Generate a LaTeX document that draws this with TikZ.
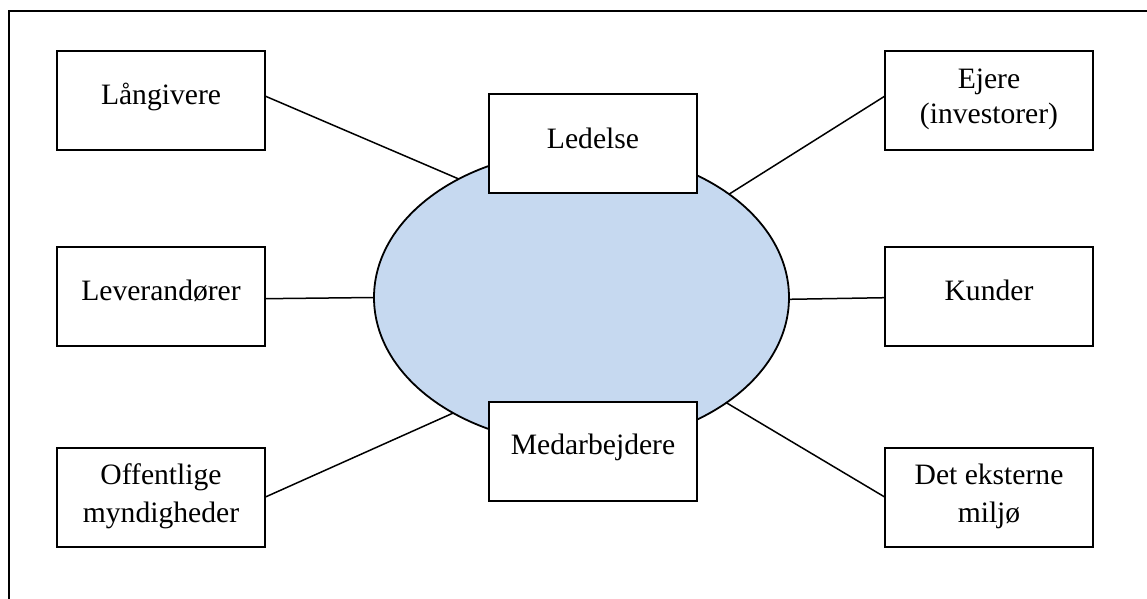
\documentclass[tikz,border=0pt]{standalone}
\usepackage{fontspec}
\setmainfont{Liberation Serif}
\usetikzlibrary{shapes.geometric,calc}
\definecolor{orgfill}{RGB}{198,217,240}
\newcommand{\twolines}[2]{\begin{tabular}[t]{@{}c@{}}#1\\#2\end{tabular}}
\begin{document}
\begin{tikzpicture}[x=0.5pt,y=-0.5pt,
  stakeholder/.style={draw, line width=0.9pt, fill=white, minimum width=104pt,
    minimum height=49.5pt, inner sep=0pt, outer sep=0pt},
  caption/.style={inner sep=0pt, anchor=base, font=\fontsize{14.8}{19}\selectfont},
  link/.style={line width=0.75pt},
]
\useasboundingbox (0,0) rectangle (1147,599);
% open frame (top and left edges)
\draw[line width=1pt] (1147,11.5) -- (8.5,11.5) -- (8.5,599);

% the organisation
\node[draw, line width=0.9pt, fill=orgfill, ellipse, minimum width=207.5pt,
  minimum height=147pt, inner sep=0pt, outer sep=0pt] (org) at (581.5,297.5) {};

% stakeholder boxes
\node[stakeholder] (lang) at (161,100.5) {};
\node[stakeholder] (lev)  at (161,296.7) {};
\node[stakeholder] (off)  at (161,497.2) {};
\node[stakeholder] (ejer) at (989,100.5) {};
\node[stakeholder] (kund) at (989,296.7) {};
\node[stakeholder] (milj) at (989,497.2) {};
\node[stakeholder] (led)  at (593,143.5) {};
\node[stakeholder] (med)  at (593,451.7) {};

% texts
\node[caption] (lang-t) at ($(lang.center)+(0,4.5)$) {Långivere};
\node[caption] (lev-t)  at ($(lev.center)+(0,4)$) {Leverandører};
\node[caption] (off-t)  at ($(off.center)+(0,-12.3)$) {\twolines{Offentlige}{myndigheder}};
\node[caption, font=\fontsize{14.8}{17.5}\selectfont] (ejer-t) at ($(ejer.center)+(0,-12.2)$) {\twolines{Ejere}{(investorer)}};
\node[caption] (kund-t) at ($(kund.center)+(0,3.5)$) {Kunder};
\node[caption] (milj-t) at ($(milj.center)+(0,-12.6)$) {\twolines{Det eksterne}{miljø}};
\node[caption] (led-t)  at ($(led.center)+(0,4.8)$) {Ledelse};
\node[caption] (med-t)  at ($(med.center)+(0,2.5)$) {Medarbejdere};

% connectors
\draw[link] ($(lang.east)+(0,-4.5)$) -- (org.136.7);
\draw[link] ($(ejer.west)+(0,-4.5)$) -- (org.35.6);
\draw[link] ($(lev.east)+(0,2)$) -- (org.west);
\draw[link] ($(kund.west)+(0,1)$) -- ($(org.east)+(0,1.8)$);
\draw[link] (off.east) -- (org.222.6);
\draw[link] (milj.west) -- (org.324.3);
\end{tikzpicture}
\end{document}
